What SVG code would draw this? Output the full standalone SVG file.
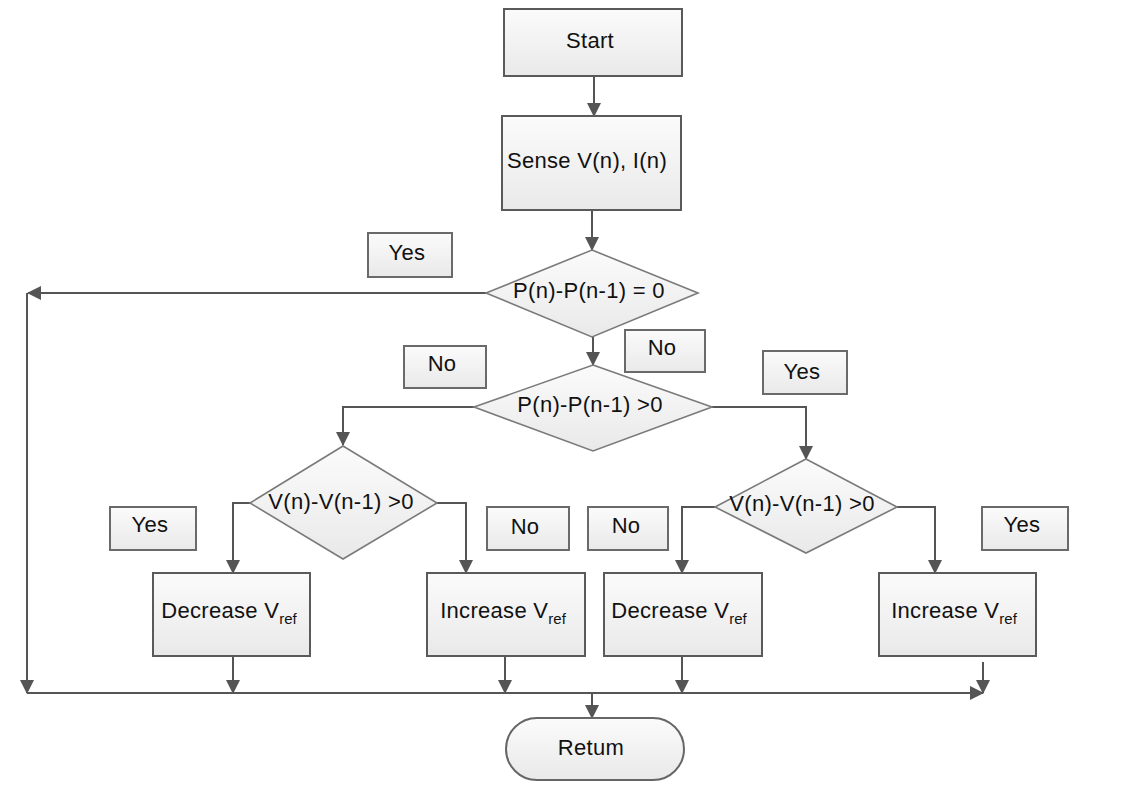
<svg xmlns="http://www.w3.org/2000/svg" width="1126" height="786" viewBox="0 0 1126 786">
<style>
.box{fill:url(#g);stroke:#5a5a5a;stroke-width:2}
.dia{fill:url(#g);stroke:#7a7a7a;stroke-width:1.6}
.lbl{fill:url(#g);stroke:#6a6a6a;stroke-width:2}
.c{fill:none;stroke:#555;stroke-width:2}
text{font-family:"Liberation Sans",Arial,sans-serif;font-size:22px;letter-spacing:0.3px;fill:#111;text-anchor:middle}
.sub{font-size:15px;letter-spacing:0}
</style>
<defs>
<linearGradient id="g" x1="0" y1="0" x2="0" y2="1">
<stop offset="0" stop-color="#fbfbfb"/>
<stop offset="1" stop-color="#e9e9e9"/>
</linearGradient>
<marker id="a" markerUnits="userSpaceOnUse" markerWidth="14" markerHeight="14" viewBox="0 0 14 14" refX="13" refY="7" orient="auto">
<path d="M0,0 L14,7 L0,14 Z" fill="#555"/>
</marker>
</defs>
<g id="connectors">
<path class="c" d="M594,76 V116" marker-end="url(#a)"/>
<path class="c" d="M592,210 V250" marker-end="url(#a)"/>
<path class="c" d="M486,293 H28" marker-end="url(#a)"/>
<path class="c" d="M27,293 V693" marker-end="url(#a)"/>
<path class="c" d="M593,337 V365" marker-end="url(#a)"/>
<path class="c" d="M474,407 H343 V445" marker-end="url(#a)"/>
<path class="c" d="M712,407 H806 V459" marker-end="url(#a)"/>
<path class="c" d="M250,503 H233 V573" marker-end="url(#a)"/>
<path class="c" d="M437,503 H466 V573" marker-end="url(#a)"/>
<path class="c" d="M715,507 H682 V573" marker-end="url(#a)"/>
<path class="c" d="M897,507 H935 V573" marker-end="url(#a)"/>
<path class="c" d="M233,656 V693" marker-end="url(#a)"/>
<path class="c" d="M505,656 V693" marker-end="url(#a)"/>
<path class="c" d="M682,656 V693" marker-end="url(#a)"/>
<path class="c" d="M983,662 V693" marker-end="url(#a)"/>
<path class="c" d="M27,693 H983" marker-end="url(#a)"/>
<path class="c" d="M592,693 V718" marker-end="url(#a)"/>
</g>
<g id="start"><rect class="box" x="504" y="9" width="178" height="67"/><text x="590" y="48">Start</text></g>
<g id="sense"><rect class="box" x="502" y="116" width="179" height="94"/><text x="587" y="168">Sense V(n), I(n)</text></g>
<g id="dec1"><polygon class="dia" points="592,250 698,293 592,337 486,293"/><text x="589" y="298">P(n)-P(n-1) = 0</text></g>
<g id="yes0"><rect class="lbl" x="368" y="233" width="84" height="44"/><text x="407" y="260">Yes</text></g>
<g id="no0"><rect class="lbl" x="625" y="330" width="80" height="42"/><text x="662" y="355">No</text></g>
<g id="dec2"><polygon class="dia" points="593,365 712,407 593,451 474,407"/><text x="590" y="412">P(n)-P(n-1) &gt;0</text></g>
<g id="no1"><rect class="lbl" x="404" y="346" width="82" height="42"/><text x="442" y="371">No</text></g>
<g id="yes1"><rect class="lbl" x="763" y="351" width="84" height="43"/><text x="802" y="379">Yes</text></g>
<g id="dec3"><polygon class="dia" points="343,446 437,503 343,559 250,503"/><text x="341" y="509">V(n)-V(n-1) &gt;0</text></g>
<g id="dec4"><polygon class="dia" points="806,459 897,507 806,553 715,507"/><text x="802" y="511">V(n)-V(n-1) &gt;0</text></g>
<g id="yes2"><rect class="lbl" x="110" y="507" width="86" height="43"/><text x="150" y="532">Yes</text></g>
<g id="no2"><rect class="lbl" x="487" y="507" width="82" height="43"/><text x="525" y="534">No</text></g>
<g id="no3"><rect class="lbl" x="588" y="507" width="80" height="43"/><text x="626" y="533">No</text></g>
<g id="yes3"><rect class="lbl" x="982" y="507" width="86" height="43"/><text x="1022" y="532">Yes</text></g>
<g id="decrease1"><rect class="box" x="153" y="573" width="157" height="83"/><text x="229" y="618">Decrease V<tspan class="sub" dy="6">ref</tspan></text></g>
<g id="increase1"><rect class="box" x="427" y="573" width="158" height="83"/><text x="503" y="618">Increase V<tspan class="sub" dy="6">ref</tspan></text></g>
<g id="decrease2"><rect class="box" x="604" y="573" width="158" height="83"/><text x="679" y="618">Decrease V<tspan class="sub" dy="6">ref</tspan></text></g>
<g id="increase2"><rect class="box" x="879" y="573" width="157" height="83"/><text x="954" y="618">Increase V<tspan class="sub" dy="6">ref</tspan></text></g>
<g id="return"><rect class="box" x="506" y="718" width="178" height="62" rx="31" ry="31" style="stroke:#666"/><text x="591" y="755">Retum</text></g>
</svg>
